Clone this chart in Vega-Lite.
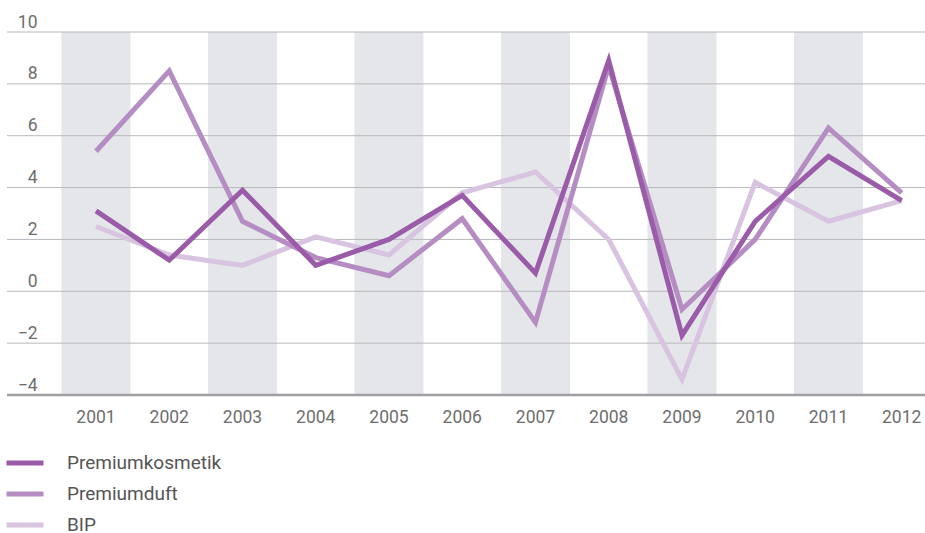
{
  "$schema": "https://vega.github.io/schema/vega-lite/v6.json",
  "width": 918,
  "height": 363,
  "autosize": {"type": "none"},
  "padding": {"left": 7, "top": 32, "right": 0, "bottom": 138},
  "background": "white",
  "config": {"view": {"stroke": null}, "font": "Roboto"},
  "layer": [
    {
      "data": {"values": [{"year": "2001"}, {"year": "2003"}, {"year": "2005"}, {"year": "2007"}, {"year": "2009"}, {"year": "2011"}]},
      "mark": {"type": "bar", "color": "#e5e6ea"},
      "encoding": {
        "x": {"field": "year", "type": "ordinal", "scale": {"type": "band", "range": [54.5, 929.2], "paddingInner": 0.058, "paddingOuter": 0},
          "axis": {"title": null, "labelAngle": 0, "domain": false, "ticks": false, "tickSize": 0, "labelPadding": 13, "labelFontSize": 17.5, "labelColor": "#6e6e6e"}}
      }
    },
    {
      "data": {"values": [{"v": -4}, {"v": -2}, {"v": 0}, {"v": 2}, {"v": 4}, {"v": 6}, {"v": 8}, {"v": 10}]},
      "mark": {"type": "rule", "color": "#b4b4b8"},
      "encoding": {
        "y": {"field": "v", "type": "quantitative", "scale": {"domain": [-4, 10], "nice": false, "zero": false},
          "axis": {"title": null, "values": [-4, -2, 0, 2, 4, 6, 8, 10], "grid": false, "domain": false, "ticks": false, "tickSize": 0, "labelPadding": -30, "labelOffset": -10, "labelAlign": "right", "labelBaseline": "middle", "labelFlush": false, "labelOverlap": false, "labelFontSize": 17.5, "labelColor": "#6e6e6e"}},
        "strokeWidth": {"condition": {"test": "datum.v === -4", "value": 2.5}, "value": 1},
        "color": {"condition": {"test": "datum.v === -4", "value": "#a0a0a4"}, "value": "#b8b8bc"}
      }
    },
    {
      "data": {"values": [
        {"year": "2001", "series": "BIP", "value": 2.5},
        {"year": "2002", "series": "BIP", "value": 1.4},
        {"year": "2003", "series": "BIP", "value": 1.0},
        {"year": "2004", "series": "BIP", "value": 2.1},
        {"year": "2005", "series": "BIP", "value": 1.4},
        {"year": "2006", "series": "BIP", "value": 3.8},
        {"year": "2007", "series": "BIP", "value": 4.6},
        {"year": "2008", "series": "BIP", "value": 2.0},
        {"year": "2009", "series": "BIP", "value": -3.4},
        {"year": "2010", "series": "BIP", "value": 4.2},
        {"year": "2011", "series": "BIP", "value": 2.7},
        {"year": "2012", "series": "BIP", "value": 3.5},
        {"year": "2001", "series": "Premiumduft", "value": 5.4},
        {"year": "2002", "series": "Premiumduft", "value": 8.5},
        {"year": "2003", "series": "Premiumduft", "value": 2.7},
        {"year": "2004", "series": "Premiumduft", "value": 1.3},
        {"year": "2005", "series": "Premiumduft", "value": 0.6},
        {"year": "2006", "series": "Premiumduft", "value": 2.8},
        {"year": "2007", "series": "Premiumduft", "value": -1.2},
        {"year": "2008", "series": "Premiumduft", "value": 8.7},
        {"year": "2009", "series": "Premiumduft", "value": -0.7},
        {"year": "2010", "series": "Premiumduft", "value": 2.0},
        {"year": "2011", "series": "Premiumduft", "value": 6.3},
        {"year": "2012", "series": "Premiumduft", "value": 3.8},
        {"year": "2001", "series": "Premiumkosmetik", "value": 3.1},
        {"year": "2002", "series": "Premiumkosmetik", "value": 1.2},
        {"year": "2003", "series": "Premiumkosmetik", "value": 3.9},
        {"year": "2004", "series": "Premiumkosmetik", "value": 1.0},
        {"year": "2005", "series": "Premiumkosmetik", "value": 2.0},
        {"year": "2006", "series": "Premiumkosmetik", "value": 3.7},
        {"year": "2007", "series": "Premiumkosmetik", "value": 0.7},
        {"year": "2008", "series": "Premiumkosmetik", "value": 8.9},
        {"year": "2009", "series": "Premiumkosmetik", "value": -1.7},
        {"year": "2010", "series": "Premiumkosmetik", "value": 2.7},
        {"year": "2011", "series": "Premiumkosmetik", "value": 5.2},
        {"year": "2012", "series": "Premiumkosmetik", "value": 3.5}
      ]},
      "mark": {"type": "line", "strokeWidth": 5},
      "encoding": {
        "x": {"field": "year", "type": "ordinal", "scale": {"type": "band", "range": [54.5, 929.2], "paddingInner": 0.058, "paddingOuter": 0},
          "axis": {"title": null, "labelAngle": 0, "domain": false, "ticks": false, "tickSize": 0, "labelPadding": 13, "labelFontSize": 17.5, "labelColor": "#6e6e6e"}},
        "y": {"field": "value", "type": "quantitative", "scale": {"domain": [-4, 10], "nice": false, "zero": false},
          "axis": {"title": null, "values": [-4, -2, 0, 2, 4, 6, 8, 10], "grid": false, "domain": false, "ticks": false, "tickSize": 0, "labelPadding": -30, "labelOffset": -10, "labelAlign": "right", "labelBaseline": "middle", "labelFlush": false, "labelOverlap": false, "labelFontSize": 17.5, "labelColor": "#6e6e6e"}},
        "color": {"field": "series", "type": "nominal",
          "scale": {"domain": ["Premiumkosmetik", "Premiumduft", "BIP"], "range": ["#9a5ca8", "#b58dc3", "#d8c4e0"]},
          "legend": {"orient": "none", "legendX": -3, "legendY": 410, "title": null, "symbolType": "stroke", "symbolStrokeWidth": 5, "symbolSize": 1369, "labelFontSize": 19, "labelColor": "#555555", "labelOffset": 21, "rowPadding": 0, "padding": 0}}
      }
    }
  ]
}
